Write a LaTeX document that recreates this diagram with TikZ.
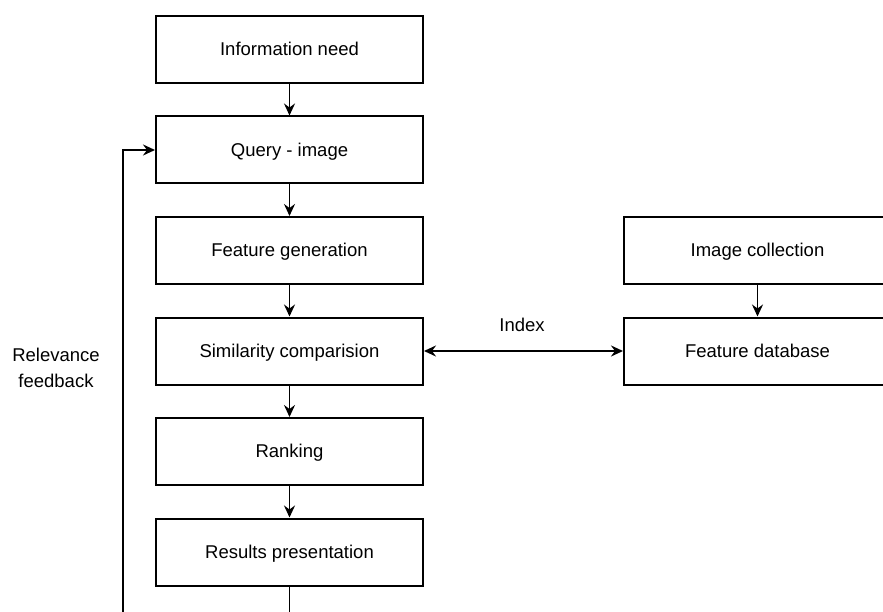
\documentclass[tikz,border=0pt]{standalone}
\usepackage{fontspec}
\setmainfont{Liberation Sans}
\usetikzlibrary{arrows.meta}
\begin{document}
\begin{tikzpicture}[x=1pt,y=-1pt,
  every node/.style={font=\fontsize{18.5}{26}\selectfont},
  box/.style={draw, line width=2pt, minimum width=267pt, minimum height=67pt, inner sep=0pt, anchor=center, text height=16.3pt, text depth=4pt},
  tip/.tip={Stealth[length=12pt,width=11pt,inset=4pt]},
  conn/.style={line width=1.8pt, -tip},
  lbl/.style={align=center}]
\useasboundingbox (0,0) rectangle (883,612);
\clip (0,0) rectangle (883,612);
\node[box] (need) at (289.5,49.5) {Information need};
\node[box] (query) at (289.5,150) {Query - image};
\node[box] (feat) at (289.5,250.5) {Feature generation};
\node[box] (sim) at (289.5,351) {Similarity comparision};
\node[box] (rank) at (289.5,451.5) {Ranking};
\node[box] (res) at (289.5,552) {Results presentation};
\node[box] (coll) at (757.5,250.5) {Image collection};
\node[box] (fdb) at (757.5,351) {Feature database};
\node[lbl] (idx) at (522,325) {Index};
\node[lbl] (rf) at (56,368) {Relevance\\feedback};
\coordinate (b1) at (289.5,640);
\coordinate (b2) at (122.7,640);
\coordinate (b3) at (122.7,150);
\draw[conn] (need) -- (query);
\draw[conn] (query) -- (feat);
\draw[conn] (feat) -- (sim);
\draw[conn] (sim) -- (rank);
\draw[conn] (rank) -- (res);
\draw[conn] (coll) -- (fdb);
\draw[line width=1.8pt, tip-tip] (sim) -- (fdb);
\draw[conn] (res.south) -- (b1) -- (b2) -- (b3) -- (query.west);
\end{tikzpicture}
\end{document}
